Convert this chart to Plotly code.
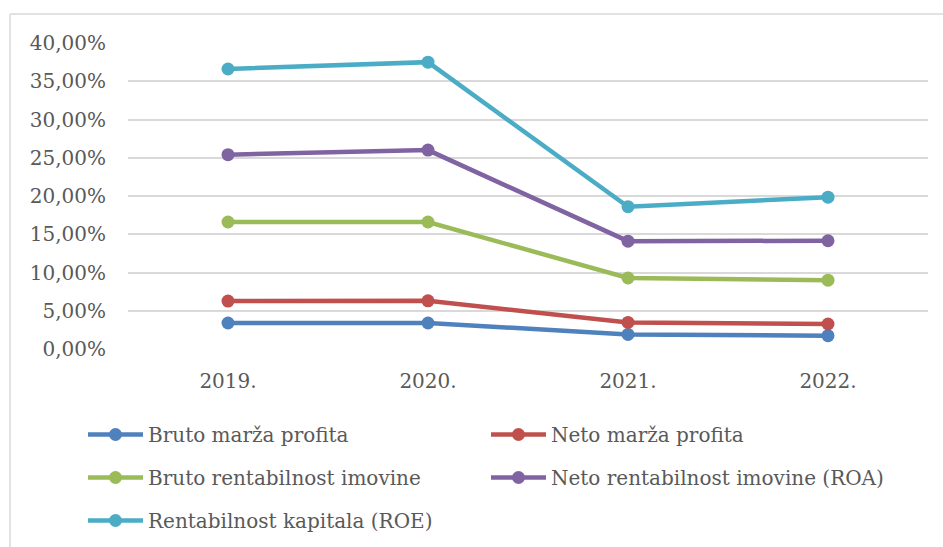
import plotly.graph_objects as go

years = ["2019.", "2020.", "2021.", "2022."]
bruto_marza = [3.40, 3.40, 1.90, 1.74]
neto_marza = [6.27, 6.30, 3.48, 3.27]
bruto_rent_imovine = [16.60, 16.60, 9.28, 9.00]
neto_rent_imovine = [25.40, 26.00, 14.10, 14.15]
rent_kapitala = [36.60, 37.50, 18.60, 19.85]

series_names = ["Bruto marža profita", "Neto marža profita", "Bruto rentabilnost imovine",
                "Neto rentabilnost imovine (ROA)", "Rentabilnost kapitala (ROE)"]
series_values = [bruto_marza, neto_marza, bruto_rent_imovine, neto_rent_imovine, rent_kapitala]
colors = ["#4F81BD", "#C0504D", "#9BBB59", "#8064A2", "#4BACC6"]
legends = ["legend", "legend2", "legend", "legend2", "legend"]

y_tickvals = [0, 5, 10, 15, 20, 25, 30, 35, 40]
y_ticktext = ["0,00%", "5,00%", "10,00%", "15,00%", "20,00%", "25,00%", "30,00%", "35,00%", "40,00%"]

FONT = "DejaVu Serif"

fig = go.Figure()
for name, vals, col, lg in zip(series_names, series_values, colors, legends):
    fig.add_trace(go.Scatter(
        x=years, y=vals, name=name, mode="lines+markers",
        line=dict(color=col, width=4.5),
        marker=dict(color=col, size=13),
        legend=lg, legendgroup=name,
    ))

W, H = 943, 547
# plot area in page coordinates
PL, PR, PT, PB = 128, 928, 43, 349
L, T = PL, PT
R, B = W - PR, H - PB
pw, ph = PR - PL, PB - PT

def px(x):
    return (x - PL) / pw

def py(y):
    return (PB - y) / ph

def cx(x):
    return x / W

def cy(y):
    return 1 - y / H

legend_common = dict(
    orientation="v", xanchor="left", yanchor="top",
    xref="container", yref="container",
    font=dict(family=FONT, size=20, color="#595959"),
    itemwidth=55, tracegroupgap=14, traceorder="grouped",
    bgcolor="rgba(0,0,0,0)",
)

fig.update_layout(
    width=W, height=H,
    margin=dict(l=L, r=R, t=T, b=B, autoexpand=False),
    paper_bgcolor="white", plot_bgcolor="white",
    showlegend=True,
    legend=dict(x=cx(83), y=cy(415), **legend_common),
    legend2=dict(x=cx(486), y=cy(415), **legend_common),
    xaxis=dict(
        range=[-0.5, 3.5], showgrid=False, zeroline=False, showline=False,
        ticks="outside", ticklen=14, tickcolor="rgba(0,0,0,0)",
        tickfont=dict(family=FONT, size=20, color="#595959"),
    ),
    yaxis=dict(
        range=[0, 40], tickvals=y_tickvals, ticktext=y_ticktext,
        showgrid=True, gridcolor="#D9D9D9", gridwidth=1.5,
        zeroline=False, showline=False,
        ticks="outside", ticklen=17, tickcolor="rgba(0,0,0,0)",
        tickfont=dict(family=FONT, size=20, color="#595959"),
    ),
    shapes=[
        dict(type="line", xref="paper", yref="paper",
             x0=px(10), x1=px(10), y0=py(14), y1=py(570),
             line=dict(color="#D9D9D9", width=1.5)),
        dict(type="line", xref="paper", yref="paper",
             x0=px(10), x1=px(970), y0=py(14), y1=py(14),
             line=dict(color="#D9D9D9", width=1.5)),
    ],
)

fig.write_html(
    "out.html",
    config={"displayModeBar": False},
    post_script="document.body.style.margin='0';document.body.style.overflow='hidden';",
)
